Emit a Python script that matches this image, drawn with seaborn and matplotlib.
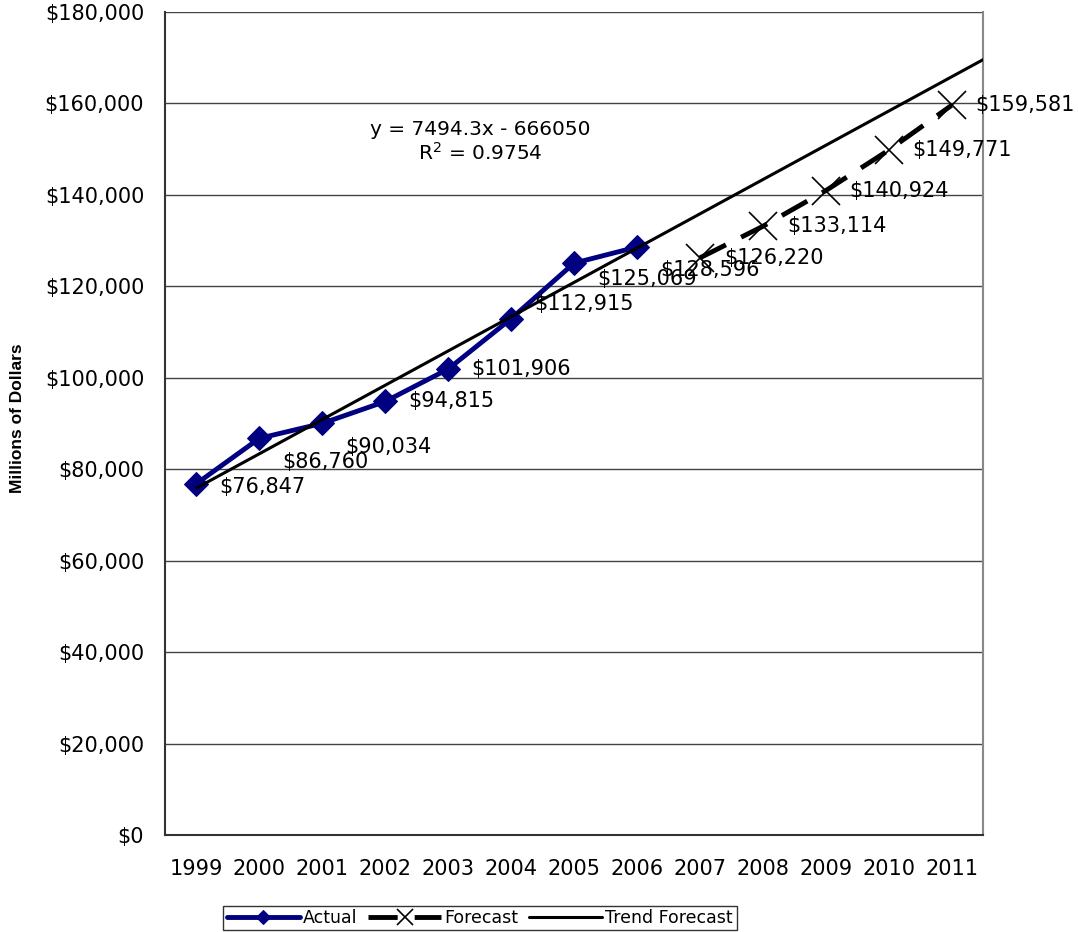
import numpy as np
import pandas as pd
import matplotlib
matplotlib.use("Agg")
import matplotlib.pyplot as plt
import seaborn as sns
from matplotlib.ticker import FuncFormatter, MultipleLocator

# chart data
years = ["1999", "2000", "2001", "2002", "2003", "2004", "2005",
         "2006", "2007", "2008", "2009", "2010", "2011"]
actual = [76847, 86760, 90034, 94815, 101906, 112915, 125069, 128596]
forecast = [126220, 133114, 140924, 149771, 159581]
equation_text = "y = 7494.3x - 666050\nR$^2$ = 0.9754"

actual_df = pd.DataFrame({"pos": np.arange(len(actual)), "value": actual})
forecast_df = pd.DataFrame({"pos": np.arange(len(actual), len(years)),
                            "value": forecast})

# linear trend fitted on the actual values, extended to the right edge
slope, intercept = np.polyfit(actual_df["pos"], actual_df["value"], 1)
trend_x = np.array([0, len(years) - 0.5])
trend_df = pd.DataFrame({"pos": trend_x, "value": slope * trend_x + intercept})

sns.set_style("white")
plt.rcParams["font.family"] = ["DejaVu Sans"]
plt.rcParams["text.color"] = "black"
plt.rcParams["xtick.color"] = "black"
plt.rcParams["ytick.color"] = "black"
plt.rcParams["axes.labelcolor"] = "black"

fig = plt.figure(figsize=(10.78, 9.32), dpi=100)
ax = fig.add_axes([165 / 1078, 1 - 835 / 932, 818 / 1078, 823 / 932])

navy = "#000080"
sns.lineplot(data=actual_df, x="pos", y="value", ax=ax, color=navy,
             lw=3.5, marker="D", markersize=12, markeredgecolor=navy,
             label="Actual", zorder=4)
sns.lineplot(data=forecast_df, x="pos", y="value", ax=ax, color="black",
             lw=3.5, ls=(0, (6, 3.5)), marker="x", markersize=20,
             markeredgewidth=1.2, markeredgecolor="black",
             label="Forecast", zorder=4)
sns.lineplot(data=trend_df, x="pos", y="value", ax=ax, color="black",
             lw=2.2, label="Trend Forecast", zorder=5)

# data labels (offsets in pixels: right, down)
px = 72 / 100
actual_dy = [3, 24, 24, 0, 0, -15, 16, 23]
for i, v in enumerate(actual):
    ax.annotate(f"${v:,}", (i, v), xytext=(23 * px, -actual_dy[i] * px),
                textcoords="offset points", ha="left", va="center",
                fontsize=15, color="black", zorder=6)
for i, v in zip(forecast_df["pos"], forecast):
    ax.annotate(f"${v:,}", (i, v), xytext=(24 * px, 0),
                textcoords="offset points", ha="left", va="center",
                fontsize=15, color="black", zorder=6, annotation_clip=False)

ax.text(0.385, 0.842, equation_text, transform=ax.transAxes,
        ha="center", va="center", fontsize=14.5, linespacing=1.2)

# axes styling
ax.set_xlim(-0.5, len(years) - 0.5)
ax.set_ylim(0, 180000)
ax.yaxis.set_major_locator(MultipleLocator(20000))
ax.yaxis.set_major_formatter(FuncFormatter(lambda v, p: f"${v:,.0f}"))
ax.set_xticks(np.arange(len(years)))
ax.set_xticklabels(years)
ax.set_xticks(np.arange(-0.5, len(years)), minor=True)
ax.tick_params(axis="x", which="major", length=0, pad=17, labelsize=15)
ax.tick_params(axis="x", which="minor", length=7, width=1, color="#333",
               direction="out")
ax.tick_params(axis="y", length=7, width=1, color="#333", direction="out",
               pad=8, labelsize=15)
ax.grid(axis="y", color="#444", lw=1)
ax.set_axisbelow(True)

for side in ["left", "bottom"]:
    ax.spines[side].set_color("#333")
    ax.spines[side].set_linewidth(1.5)
ax.spines["right"].set_color("#888")
ax.spines["right"].set_linewidth(1.5)
ax.spines["top"].set_visible(False)

ax.set_xlabel("")
ax.set_ylabel("")
fig.text(18 / 1078, 1 - 418 / 932, "Millions of Dollars", rotation=90,
         ha="center", va="center", fontsize=12.5, fontweight="bold",
         family="Liberation Sans")

leg = ax.legend(loc="center", bbox_to_anchor=(480 / 1078, 1 - 918 / 932),
                bbox_transform=fig.transFigure, ncol=3, fontsize=12.5,
                frameon=True, fancybox=False, handlelength=4.2,
                handletextpad=0.2, columnspacing=0.6, borderpad=0.2,
                borderaxespad=0, markerscale=0.6)
leg.get_frame().set_edgecolor("black")
leg.get_frame().set_linewidth(1)

fig.savefig("out.png", dpi=100)
